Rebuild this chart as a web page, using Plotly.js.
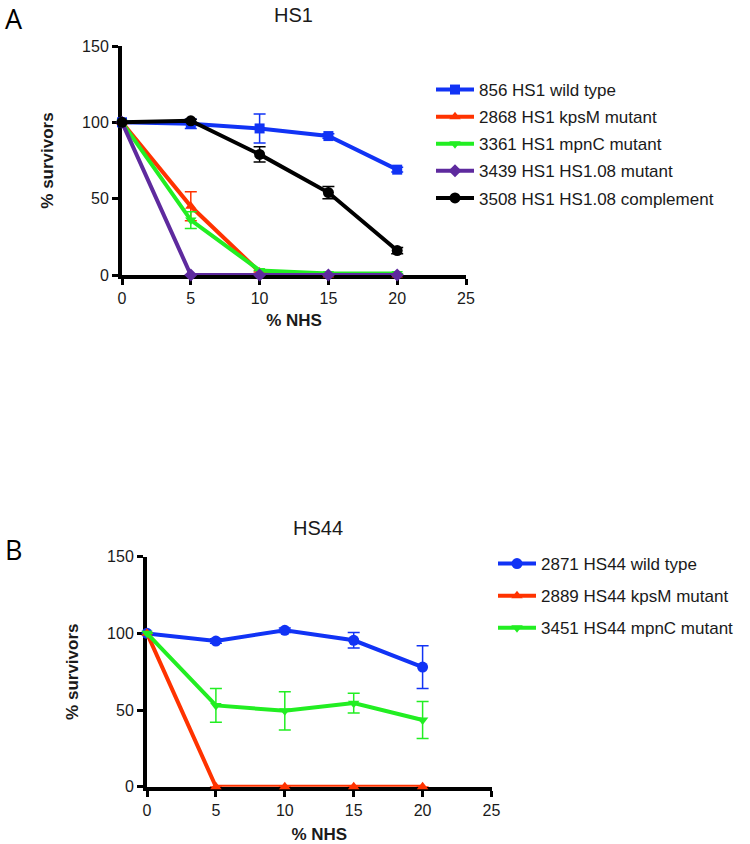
<!DOCTYPE html>
<html>
<head>
<meta charset="utf-8">
<script src="https://cdn.plot.ly/plotly-3.0.1.min.js"></script>
<style>
  html, body { margin: 0; padding: 0; background: #fff; }
  #chart { width: 750px; height: 844px; }
</style>
</head>
<body>
<div id="chart"></div>
<script>
// % NHS concentrations
const nhs = [0, 5, 10, 15, 20];

// Panel A - HS1
const hs1Names = [
  "856 HS1 wild type",
  "2868 HS1 kpsM mutant",
  "3361 HS1 mpnC mutant",
  "3439 HS1 HS1.08 mutant",
  "3508 HS1 HS1.08 complement"
];
const hs1Wild = [100, 99, 96, 91, 69];
const hs1WildErr = [0, 3, 9.5, 1.5, 1.5];
const hs1Kpsm = [100, 45, 2, 0, 0];
const hs1KpsmErr = [0, 9.5, 0, 0, 0];
const hs1Mpnc = [100, 36, 3, 1, 1];
const hs1MpncErr = [0, 5.5, 0, 0, 0];
const hs1Hs108 = [100, 0, 0, 0, 0];
const hs1Hs108Err = [0, 0, 0, 0, 0];
const hs1Comp = [100, 101, 79, 54, 16];
const hs1CompErr = [0, 1, 5, 4, 2];

// Panel B - HS44
const hs44Names = [
  "2871 HS44 wild type",
  "2889 HS44 kpsM mutant",
  "3451 HS44 mpnC mutant"
];
const hs44Wild = [100, 95, 102, 95.5, 78];
const hs44WildErr = [0, 1.5, 1.5, 5, 14];
const hs44Kpsm = [100, 0, 0, 0, 0];
const hs44KpsmErr = [0, 0, 0, 0, 0];
const hs44Mpnc = [100, 53, 49.5, 54.5, 43.5];
const hs44MpncErr = [0, 11, 12.5, 6.5, 12];

const BLUE = "#1133f5";
const RED = "#ff3300";
const GREEN = "#22ee22";
const PURPLE = "#5e2a9e";
const BLACK = "#000000";

function series(name, y, err, color, symbol, size, xa, ya, legend, group) {
  return {
    type: "scatter",
    mode: "lines+markers",
    name: name,
    x: nhs,
    y: y,
    xaxis: xa,
    yaxis: ya,
    legend: legend,
    legendgroup: group,
    line: { color: color, width: 4 },
    marker: { color: color, symbol: symbol, size: size },
    error_y: { type: "data", array: err, visible: true, color: color, thickness: 1.5, width: 6 },
    cliponaxis: false
  };
}

const traces = [
  series(hs1Names[0], hs1Wild, hs1WildErr, BLUE, "square", 10, "x", "y", "legend", "a1"),
  series(hs1Names[1], hs1Kpsm, hs1KpsmErr, RED, "triangle-up", 10, "x", "y", "legend", "a2"),
  series(hs1Names[2], hs1Mpnc, hs1MpncErr, GREEN, "triangle-down", 10, "x", "y", "legend", "a3"),
  series(hs1Names[3], hs1Hs108, hs1Hs108Err, PURPLE, "diamond", 10, "x", "y", "legend", "a4"),
  series(hs1Names[4], hs1Comp, hs1CompErr, BLACK, "circle", 11, "x", "y", "legend", "a5"),
  series(hs44Names[0], hs44Wild, hs44WildErr, BLUE, "circle", 11, "x2", "y2", "legend2", "b1"),
  series(hs44Names[1], hs44Kpsm, hs44KpsmErr, RED, "triangle-up", 10, "x2", "y2", "legend2", "b2"),
  series(hs44Names[2], hs44Mpnc, hs44MpncErr, GREEN, "triangle-down", 10, "x2", "y2", "legend2", "b3")
];

const W = 750, H = 844;
const FONT = "Liberation Sans, Arial, sans-serif";
const tickFont = { family: FONT, size: 16, color: "#1a1a1a" };
const titleFont = { family: FONT, size: 17, color: "#1a1a1a", weight: "bold" };

function xAxis(x0, x1, y, standoff) {
  return {
    domain: [x0 / W, x1 / W],
    range: [0, 25],
    tickvals: [0, 5, 10, 15, 20, 25],
    showline: true, linewidth: 4, linecolor: "#000",
    ticks: "outside", ticklen: 6, tickwidth: 3, tickcolor: "#000",
    showgrid: false, zeroline: false,
    tickfont: tickFont,
    layer: "below traces",
    anchor: y,
    title: { text: "% NHS", font: titleFont, standoff: standoff }
  };
}
function yAxis(top, bottom, x, standoff) {
  return {
    domain: [1 - bottom / H, 1 - top / H],
    range: [0, 150],
    tickvals: [0, 50, 100, 150],
    showline: true, linewidth: 4, linecolor: "#000",
    ticks: "outside", ticklen: 6, tickwidth: 3, tickcolor: "#000",
    showgrid: false, zeroline: false,
    tickfont: tickFont,
    layer: "below traces",
    anchor: x,
    title: { text: "% survivors", font: titleFont, standoff: standoff }
  };
}

const legendFont = { family: FONT, size: 17, color: "#1a1a1a" };

function label(text, px, py, size, family, color) {
  return {
    text: text, x: px / W, y: 1 - py / H, xref: "paper", yref: "paper",
    xanchor: "center", yanchor: "middle", showarrow: false,
    font: { family: family, size: size, color: color }
  };
}

const layout = {
  width: W,
  height: H,
  margin: { l: 0, r: 0, t: 0, b: 0 },
  paper_bgcolor: "#fff",
  plot_bgcolor: "#fff",
  showlegend: true,
  xaxis: xAxis(122, 466, "y", 9),
  yaxis: yAxis(46, 275, "x", 25),
  xaxis2: xAxis(147, 491.5, "y2", 13),
  yaxis2: yAxis(556.7, 786.7, "x2", 25),
  legend: {
    x: 431 / W, xanchor: "left",
    y: 1 - 72 / H, yanchor: "top",
    font: legendFont, traceorder: "grouped", tracegroupgap: 2,
    itemwidth: 38,
    bgcolor: "rgba(0,0,0,0)"
  },
  legend2: {
    x: 493 / W, xanchor: "left",
    y: 1 - 546 / H, yanchor: "top",
    font: legendFont, traceorder: "grouped", tracegroupgap: 7,
    itemwidth: 38,
    bgcolor: "rgba(0,0,0,0)"
  },
  annotations: [
    label("HS1", 293, 15, 20, FONT, "#1a1a1a"),
    label("HS44", 318, 528, 20, FONT, "#1a1a1a"),
    label("A", 14, 18, 27, "Open Sans, sans-serif", "#000"),
    label("B", 13, 549, 27, "Open Sans, sans-serif", "#000")
  ]
};

Plotly.newPlot("chart", traces, layout, { displayModeBar: false, staticPlot: true });
</script>
</body>
</html>
